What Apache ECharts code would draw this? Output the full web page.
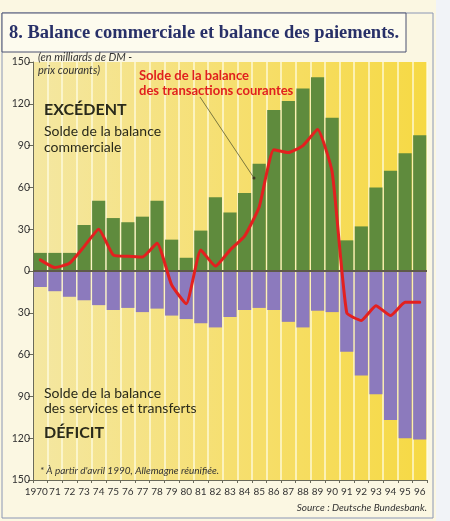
<!DOCTYPE html>
<html>
<head>
<meta charset="utf-8">
<script src="https://cdn.jsdelivr.net/npm/echarts@6/dist/echarts.min.js"></script>
<style>
html,body{margin:0;padding:0;background:#fbf7e2;}
#c{width:450px;height:521px;}
</style>
</head>
<body>
<div id="c"></div>
<script>
const categories = ['1970','71','72','73','74','75','76','77','78','79','80','81','82','83','84','85','86','87','88','89','90','91','92','93','94','95','96'];
const tradeBalance = [13,13,13,33,50.5,38,35,39,50.5,22.5,9.5,29,53,42,56,77,115.5,122,131,139,110,22,32,60,72,84.5,97.5];
const servicesBalance = [-11.5,-14.5,-18.5,-21,-24.5,-28,-26.5,-29.5,-27,-32,-34.5,-37.5,-40.5,-33,-28,-26.5,-28,-36.5,-40.5,-28.5,-29.5,-58,-75,-88.5,-107,-120,-121];
const currentAccount = [8,2.5,5.5,17.5,30,11.5,10.5,10,20,-10,-23.5,15,3.5,15,25,46,87,85,90,101.5,71,-30,-35.5,-25,-32,-22.5,-22.5];
const yTicks = {min:-150, max:150, interval:30};

const chart = echarts.init(document.getElementById('c'), null, {renderer:'canvas'});
const sans = "Lato,'Noto Sans',sans-serif";

chart.setOption({
  backgroundColor:'#fbf7e2',
  animation:false,
  grid:{left:33,right:23,top:62,bottom:41,show:true,borderWidth:0,
    backgroundColor:{type:'linear',x:0,y:0,x2:1,y2:0,colorStops:[{offset:0,color:'#f4e7a2'},{offset:0.5,color:'#f6df70'},{offset:1,color:'#f6d944'}]}},
  xAxis:{type:'category',data:categories,boundaryGap:true,
    axisLine:{onZero:false,lineStyle:{color:'#6a6a5a',width:1}},
    axisTick:{show:true,length:3,interval:0,lineStyle:{color:'#6a6a5a'}},
    axisLabel:{interval:0,fontSize:10,color:'#333',margin:7,fontFamily:sans,
      formatter:(v,i)=> i===0 ? '{f|'+v+'}' : v,
      rich:{f:{fontSize:10,color:'#333',fontFamily:sans,padding:[0,8,0,0]}}},
    splitLine:{show:true,interval:0,lineStyle:{color:'rgba(255,253,230,0.85)',width:1.5}}
  },
  yAxis:{type:'value',min:yTicks.min,max:yTicks.max,interval:yTicks.interval,
    axisLine:{show:true,lineStyle:{color:'#6a6a5a',width:1}},
    axisTick:{show:true,length:5,lineStyle:{color:'#6a6a5a'}},
    axisLabel:{fontSize:10.5,color:'#333',margin:3,fontFamily:sans,formatter:v=>String(Math.abs(v))},
    splitLine:{show:false}
  },
  series:[
    {name:'Balance commerciale',type:'bar',data:tradeBalance,barWidth:'90%',barGap:'-100%',
     itemStyle:{color:'#5f8b3d'}, z:2,
     markLine:{silent:true,symbol:'none',label:{show:false},lineStyle:{color:'#5e5a48',width:2,type:'solid'},data:[{yAxis:0}]}},
    {name:'Services et transferts',type:'bar',data:servicesBalance,barWidth:'90%',barGap:'-100%',
     itemStyle:{color:'#8c7abd'}, z:2},
    {name:'Transactions courantes',type:'line',data:currentAccount,symbol:'none',smooth:0.15,
     lineStyle:{color:'#e3201f',width:3,cap:'round',join:'round'}, z:5}
  ],
  graphic:[
    {type:'rect',shape:{x:436,y:0,width:14,height:521},style:{fill:'#f1f3f7'},z:-1},
    {type:'rect',shape:{x:2,y:13,width:431,height:505},style:{fill:'none',stroke:'#8a96b4',lineWidth:1},z:1},
    {type:'rect',shape:{x:2,y:13,width:404,height:39},style:{fill:'#fdfbee',stroke:'#4b5070',lineWidth:1},z:2},
    {type:'text',x:9,y:33,style:{text:'8. Balance commerciale et balance des paiements.',font:"bold 18.5px 'Liberation Serif','DejaVu Serif',serif",fill:'#283068',textVerticalAlign:'middle'},z:3},
    {type:'text',x:38,y:57,style:{text:'(en milliards de DM -',font:"italic 11px "+sans,fill:'#333',textVerticalAlign:'middle'},z:3},
    {type:'text',x:38,y:70,style:{text:'prix courants)',font:"italic 11px "+sans,fill:'#333',textVerticalAlign:'middle'},z:3},
    {type:'text',x:139,y:76,style:{text:'Solde de la balance',font:"bold 13px "+sans,fill:'#e0201e',textVerticalAlign:'middle'},z:6},
    {type:'text',x:139,y:91,style:{text:'des transactions courantes',font:"bold 13px "+sans,fill:'#e0201e',textVerticalAlign:'middle'},z:6},
    {type:'line',shape:{x1:200,y1:97,x2:254,y2:178},style:{stroke:'#5a5a30',lineWidth:0.8},z:6},
    {type:'circle',shape:{cx:254,cy:178,r:1.5},style:{fill:'#3a3a20'},z:6},
    {type:'text',x:44,y:110,style:{text:'EXCÉDENT',font:"bold 16px "+sans,fill:'#2a2a1a',textVerticalAlign:'middle'},z:6},
    {type:'text',x:44,y:131,style:{text:'Solde de la balance',font:"14px "+sans,fill:'#2a2a1a',textVerticalAlign:'middle'},z:6},
    {type:'text',x:44,y:147,style:{text:'commerciale',font:"14px "+sans,fill:'#2a2a1a',textVerticalAlign:'middle'},z:6},
    {type:'text',x:44,y:393,style:{text:'Solde de la balance',font:"14px "+sans,fill:'#2a2a1a',textVerticalAlign:'middle'},z:6},
    {type:'text',x:44,y:408,style:{text:'des services et transferts',font:"14px "+sans,fill:'#2a2a1a',textVerticalAlign:'middle'},z:6},
    {type:'text',x:44,y:433,style:{text:'DÉFICIT',font:"bold 16px "+sans,fill:'#2a2a1a',textVerticalAlign:'middle'},z:6},
    {type:'text',x:40,y:471,style:{text:"* À partir d'avril 1990, Allemagne réunifiée.",font:"italic 10px "+sans,fill:'#333',textVerticalAlign:'middle'},z:6},
    {type:'text',x:427,y:508,style:{text:'Source : Deutsche Bundesbank.',font:"italic 10px "+sans,fill:'#333',textAlign:'right',textVerticalAlign:'middle'},z:6}
  ]
});
</script>
</body>
</html>
